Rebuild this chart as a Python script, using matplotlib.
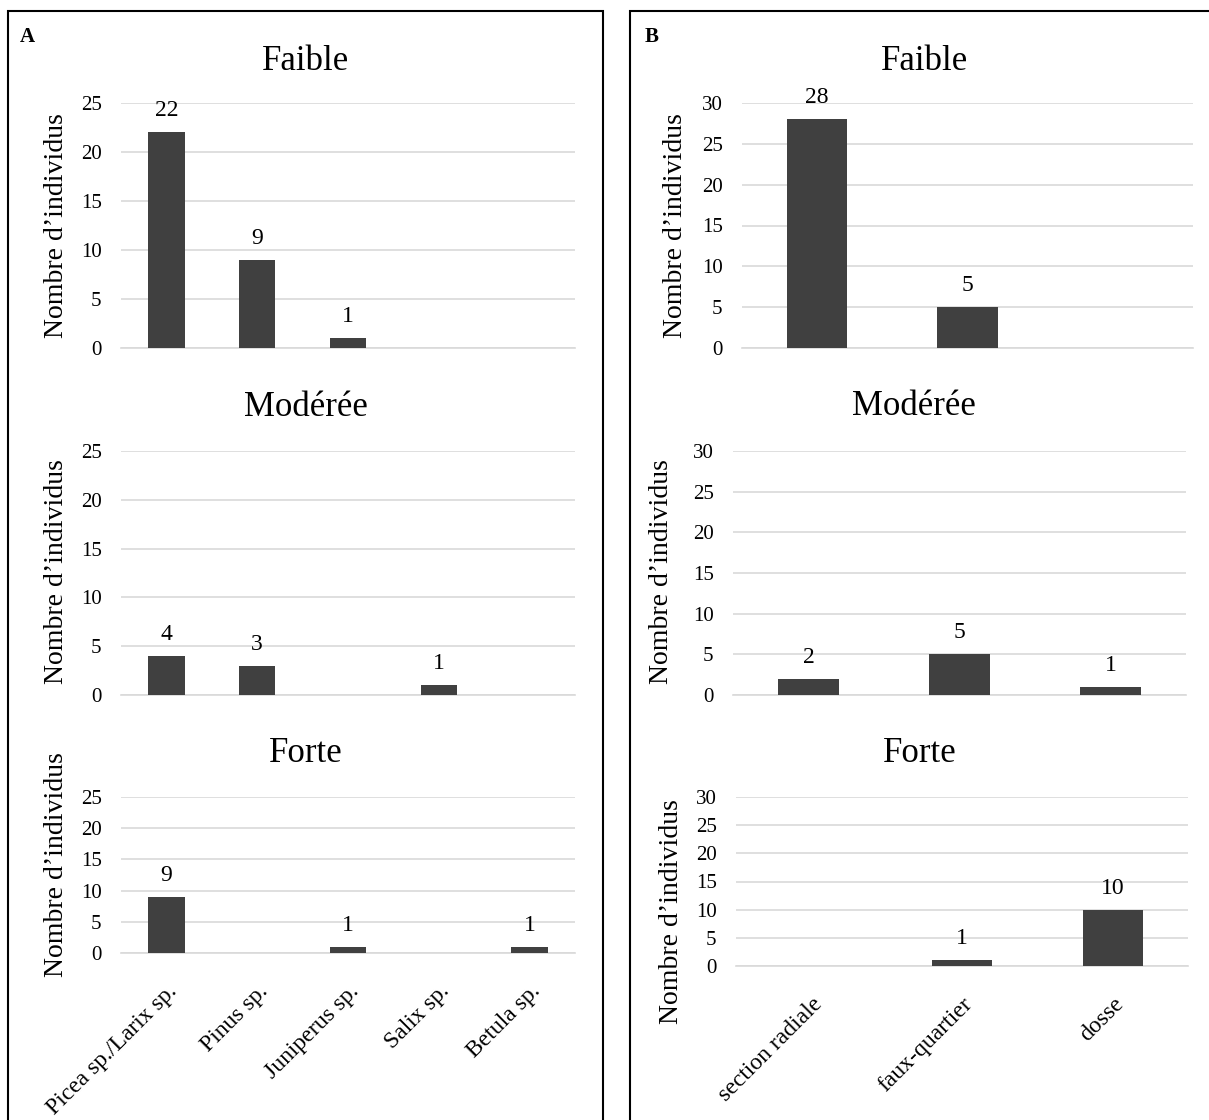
import matplotlib
matplotlib.use("Agg")
import matplotlib.pyplot as plt
from matplotlib.patches import Rectangle
import numpy as np

plt.rcParams['font.family'] = ['Liberation Serif', 'DejaVu Serif']

# ---------------- data ----------------
species = ["Picea sp./Larix sp.", "Pinus sp.", "Juniperus sp.", "Salix sp.", "Betula sp."]
a_faible = [22, 9, 1, 0, 0]
a_moderee = [4, 3, 0, 1, 0]
a_forte = [9, 0, 1, 0, 1]

sections = ["section radiale", "faux-quartier", "dosse"]
b_faible = [28, 5, 0]
b_moderee = [2, 5, 1]
b_forte = [0, 1, 10]

titles = ["Faible", "Modérée", "Forte"]
a_ticks = [0, 5, 10, 15, 20, 25]
b_ticks = [0, 5, 10, 15, 20, 25, 30]
ylabel = "Nombre d\u2019individus"

W, H = 1209, 1120
fig = plt.figure(figsize=(W / 100, H / 100), dpi=100)

BAR = "#404040"
GRID = "#d9d9d9"


def px_axes(x0, x1, ytop, ybot):
    return fig.add_axes([x0 / W, 1 - ybot / H, (x1 - x0) / W, (ybot - ytop) / H])


def panel(ax, cats, vals, ticks, show_x):
    x = np.arange(len(cats))
    ax.bar(x, vals, width=0.4, color=BAR, zorder=3)
    ax.set_xlim(-0.5, len(cats) - 0.5)
    ax.set_ylim(0, ticks[-1])
    ax.set_yticks(ticks)
    ax.set_yticklabels([str(t) for t in ticks], fontsize=15)
    ax.yaxis.grid(True, color=GRID, lw=1.2, zorder=0)
    ax.set_axisbelow(True)
    for s in ["top", "right", "left"]:
        ax.spines[s].set_visible(False)
    ax.spines["bottom"].set_color(GRID)
    ax.spines["bottom"].set_linewidth(1.2)
    ax.tick_params(axis="y", length=0, pad=14)
    ax.tick_params(axis="x", length=0, pad=20)
    ax.set_xticks(x)
    if show_x:
        ax.set_xticklabels(cats, rotation=45, ha="right", rotation_mode="anchor",
                           fontsize=17)
    else:
        ax.set_xticklabels([])
    for xi, v in zip(x, vals):
        if v > 0:
            ax.annotate(str(v), (xi, v), xytext=(0, 8), textcoords="offset points",
                        ha="center", va="bottom", fontsize=17)


# Panel A
axA1 = px_axes(121, 575, 103, 348)
panel(axA1, species, a_faible, a_ticks, False)
axA2 = px_axes(121, 575, 451, 695)
panel(axA2, species, a_moderee, a_ticks, False)
axA3 = px_axes(121, 575, 797, 953)
panel(axA3, species, a_forte, a_ticks, True)

# Panel B
axB1 = px_axes(742, 1193, 103, 348)
panel(axB1, sections, b_faible, b_ticks, False)
axB2 = px_axes(733, 1186, 451, 695)
panel(axB2, sections, b_moderee, b_ticks, False)
axB3 = px_axes(736, 1188, 797, 966)
panel(axB3, sections, b_forte, b_ticks, True)


def ftext(x, y, s, **kw):
    fig.text(x / W, 1 - y / H, s, **kw)


# titles (baseline positions)
for (x, y), t in zip([(306, 70), (306, 416), (306, 762)], titles):
    ftext(x, y, t, ha="center", va="baseline", fontsize=25)
for (x, y), t in zip([(925, 70), (914, 415), (920, 762)], titles):
    ftext(x, y, t, ha="center", va="baseline", fontsize=25)

# y labels
for x, y in [(57, 226), (57, 572), (57, 865), (676, 226), (661, 572), (671, 912)]:
    ftext(x, y, ylabel, ha="center", va="center", rotation=90, fontsize=20)

# panel letters
ftext(20, 37, "A", ha="left", va="center", fontsize=15, fontweight="bold")
ftext(645, 37, "B", ha="left", va="center", fontsize=15, fontweight="bold")

# panel boxes
fig.patches.append(Rectangle((8 / W, -0.05), (603 - 8) / W, 1.05 - 11 / H,
                             transform=fig.transFigure, fill=False,
                             edgecolor="black", lw=1.5))
fig.patches.append(Rectangle((630 / W, -0.05), 0.6, 1.05 - 11 / H,
                             transform=fig.transFigure, fill=False,
                             edgecolor="black", lw=1.5))

fig.savefig("out.png", dpi=100, facecolor="white")
